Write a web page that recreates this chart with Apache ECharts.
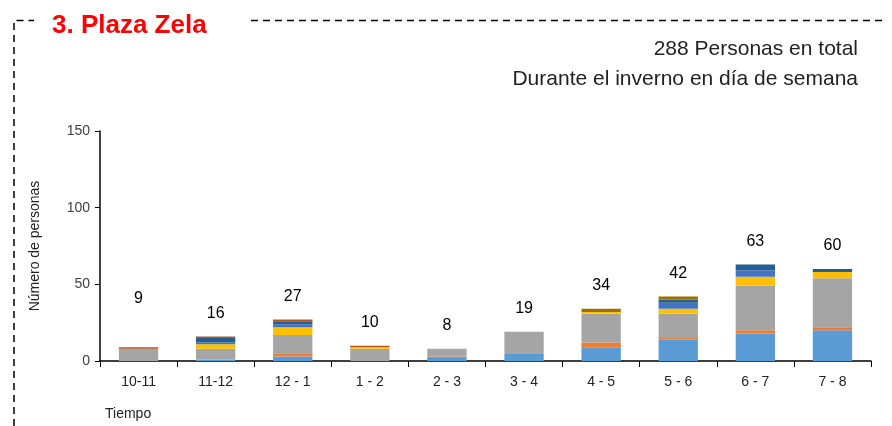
<!DOCTYPE html>
<html>
<head>
<meta charset="utf-8">
<script src="https://cdn.jsdelivr.net/npm/echarts@6/dist/echarts.min.js"></script>
<style>
  html, body { margin: 0; padding: 0; background: #fff; }
  #chart-panel { width: 892px; height: 426px; }
</style>
</head>
<body>
<div id="chart-panel"></div>
<script>
var categories = ['10-11', '11-12', '12 - 1', '1 - 2', '2 - 3', '3 - 4', '4 - 5', '5 - 6', '6 - 7', '7 - 8'];

// capas apiladas, de abajo hacia arriba
var grupo1 = [0, 1, 3, 0, 2, 5, 9, 14, 18, 20];
var grupo2 = [0, 0, 2, 0, 1, 0, 3, 1, 2, 2];
var grupo3 = [8, 7, 12, 8, 5, 14, 19, 16, 29, 32];
var grupo4 = [0, 3, 5, 1, 0, 0, 1, 3, 6, 4];
var grupo5 = [0, 1, 2, 0, 0, 0, 0, 4, 4, 0];
var grupo6 = [0, 3, 2, 0, 0, 0, 0, 2, 4, 2];
var grupo7 = [1, 1, 1, 1, 0, 0, 0, 0, 0, 0];
var grupo8 = [0, 0, 0, 0, 0, 0, 2, 2, 0, 0];

var totales = [9, 16, 27, 10, 8, 19, 34, 42, 63, 60];
var yTicks = [0, 50, 100, 150];

var capas = [grupo1, grupo2, grupo3, grupo4, grupo5, grupo6, grupo7, grupo8];
var colores = ['#5B9BD5', '#ED7D31', '#A5A5A5', '#FFC000', '#4472C4', '#255E91', '#B5561E', '#997300'];

var myChart = echarts.init(document.getElementById('chart-panel'));
var fuente = 'Liberation Sans, Arial, sans-serif';

var series = capas.map(function (d, i) {
    return {
        name: 'Grupo ' + (i + 1),
        type: 'bar',
        stack: 'total',
        barCategoryGap: '49%',
        itemStyle: { color: colores[i] },
        data: d
    };
});

// etiquetas de total encima de cada barra
series.push({
    name: 'Total',
    type: 'scatter',
    symbolSize: 2,
    itemStyle: { color: 'rgba(0,0,0,0)' },
    silent: true,
    z: 5,
    label: {
        show: true,
        position: 'top',
        distance: 14,
        color: '#000',
        opacity: 1,
        fontSize: 16,
        fontFamily: fuente
    },
    labelLayout: { hideOverlap: false },
    data: totales.map(function (v, i) {
        // la etiqueta del primer total está más alta en el original
        if (i === 0) return { value: v, label: { show: true, position: 'top', distance: 40 } };
        return v;
    })
});

var option = {
    animation: false,
    backgroundColor: '#fff',
    textStyle: { fontFamily: fuente },
    title: [
        {
            text: '3. Plaza Zela',
            left: 47, top: 8,
            textStyle: { color: '#FF0000', fontSize: 26, fontWeight: 'bold', fontFamily: fuente }
        },
        {
            text: '288 Personas en total',
            right: 29, top: 34,
            textStyle: { color: '#222', fontSize: 21, fontWeight: 'normal', fontFamily: fuente }
        },
        {
            text: 'Durante el inverno en día de semana',
            right: 29, top: 64,
            textStyle: { color: '#222', fontSize: 21, fontWeight: 'normal', fontFamily: fuente }
        },
        {
            text: 'Tiempo',
            left: 100, top: 402,
            textStyle: { color: '#222', fontSize: 14, fontWeight: 'normal', fontFamily: fuente }
        }
    ],
    graphic: [
        {
            type: 'polyline',
            shape: { points: [[14, 426], [14, 20.5], [34, 20.5]] },
            style: { stroke: '#000', lineWidth: 1.5, fill: null, lineDash: [7, 5] }
        },
        {
            type: 'polyline',
            shape: { points: [[251, 20.5], [884, 20.5]] },
            style: { stroke: '#000', lineWidth: 1.5, fill: null, lineDash: [7, 5] }
        }
    ],
    grid: { left: 100, right: 21, top: 131, bottom: 65 },
    xAxis: {
        type: 'category',
        data: categories,
        axisLine: { lineStyle: { color: '#000', width: 1.5 } },
        axisTick: { show: true, length: 6, lineStyle: { color: '#000' } },
        axisLabel: { color: '#222', fontSize: 14, margin: 14, fontFamily: fuente }
    },
    yAxis: {
        type: 'value',
        min: yTicks[0],
        max: yTicks[yTicks.length - 1],
        interval: 50,
        name: 'Número de personas',
        nameLocation: 'middle',
        nameGap: 58,
        nameTextStyle: { color: '#222', fontSize: 14, fontFamily: fuente },
        axisLine: { show: true, lineStyle: { color: '#000', width: 1.5 } },
        axisTick: { show: true, length: 5, lineStyle: { color: '#000' } },
        axisLabel: { color: '#404040', fontSize: 14, margin: 10, fontFamily: fuente },
        splitLine: { show: false }
    },
    series: series
};

myChart.setOption(option);
</script>
</body>
</html>
